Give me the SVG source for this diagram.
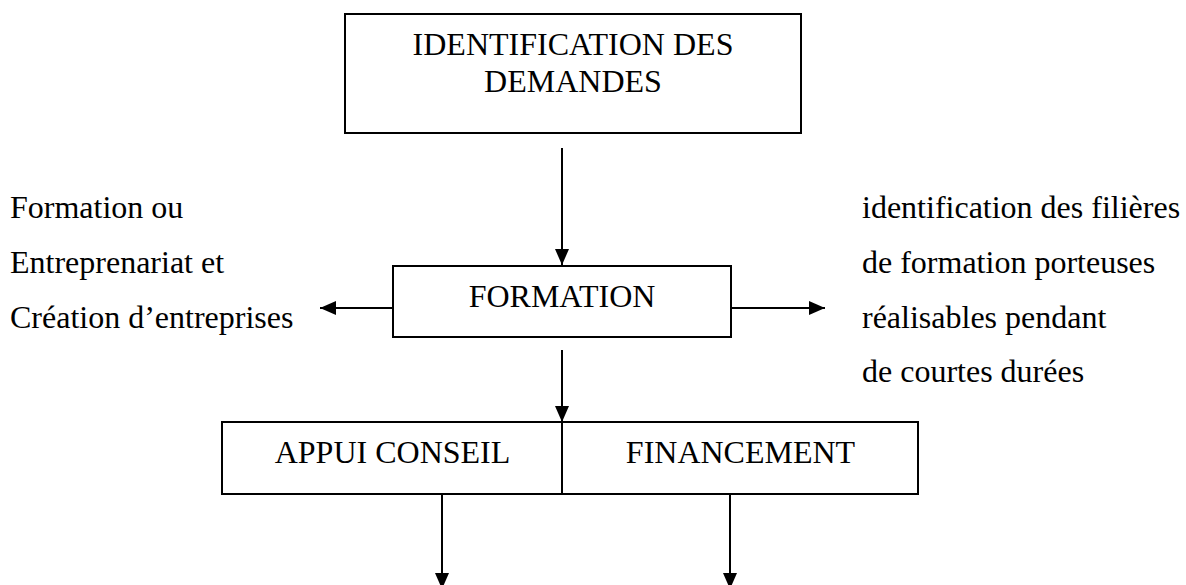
<svg xmlns="http://www.w3.org/2000/svg" width="1186" height="585" viewBox="0 0 1186 585">
<style>
.box{fill:#fff;stroke:#000;stroke-width:2}
text{font-family:'Liberation Serif','Times New Roman',Tinos,'DejaVu Serif',serif;font-size:32px;fill:#000}
.c{text-anchor:middle}
.ln{stroke:#000;stroke-width:2;fill:none}
</style>
<defs>
<marker id="ah" markerWidth="16" markerHeight="14" refX="16" refY="7" orient="auto" markerUnits="userSpaceOnUse">
<path d="M0,0 L16,7 L0,14 Z" fill="#000"/>
</marker>
</defs>
<rect width="1186" height="585" fill="#fff"/>
<g id="n-identification">
<rect class="box" x="345" y="14" width="456" height="119"/>
<text class="c" x="573" y="55" font-family="Liberation Serif, serif">IDENTIFICATION DES</text>
<text class="c" x="573" y="92" font-family="Liberation Serif, serif">DEMANDES</text>
</g>
<g id="n-formation">
<rect class="box" x="393" y="266" width="338" height="71"/>
<text class="c" x="562" y="307" font-family="Liberation Serif, serif">FORMATION</text>
</g>
<g id="n-left-text">
<text x="10" y="218" font-family="Liberation Serif, serif">Formation ou</text>
<text x="10" y="273" font-family="Liberation Serif, serif">Entreprenariat et</text>
<text x="10" y="328" font-family="Liberation Serif, serif">Création d’entreprises</text>
</g>
<g id="n-right-text">
<text x="862" y="218" font-family="Liberation Serif, serif">identification des filières</text>
<text x="862" y="273" font-family="Liberation Serif, serif">de formation porteuses</text>
<text x="862" y="328" font-family="Liberation Serif, serif">réalisables pendant</text>
<text x="862" y="382" font-family="Liberation Serif, serif">de courtes durées</text>
</g>
<g id="n-appui-financement">
<rect class="box" x="222" y="422" width="696" height="72"/>
<line class="ln" x1="562" y1="422" x2="562" y2="494"/>
<text class="c" x="392.5" y="463" font-family="Liberation Serif, serif">APPUI CONSEIL</text>
<text class="c" x="740.5" y="463" font-family="Liberation Serif, serif">FINANCEMENT</text>
</g>
<g id="connectors">
<line class="ln" x1="562" y1="148" x2="562" y2="265" marker-end="url(#ah)"/>
<line class="ln" x1="393" y1="308" x2="320" y2="308" marker-end="url(#ah)"/>
<line class="ln" x1="731" y1="308" x2="825" y2="308" marker-end="url(#ah)"/>
<line class="ln" x1="562" y1="350" x2="562" y2="422" marker-end="url(#ah)"/>
<line class="ln" x1="442" y1="494" x2="442" y2="589" marker-end="url(#ah)"/>
<line class="ln" x1="730" y1="494" x2="730" y2="589" marker-end="url(#ah)"/>
</g>
</svg>
